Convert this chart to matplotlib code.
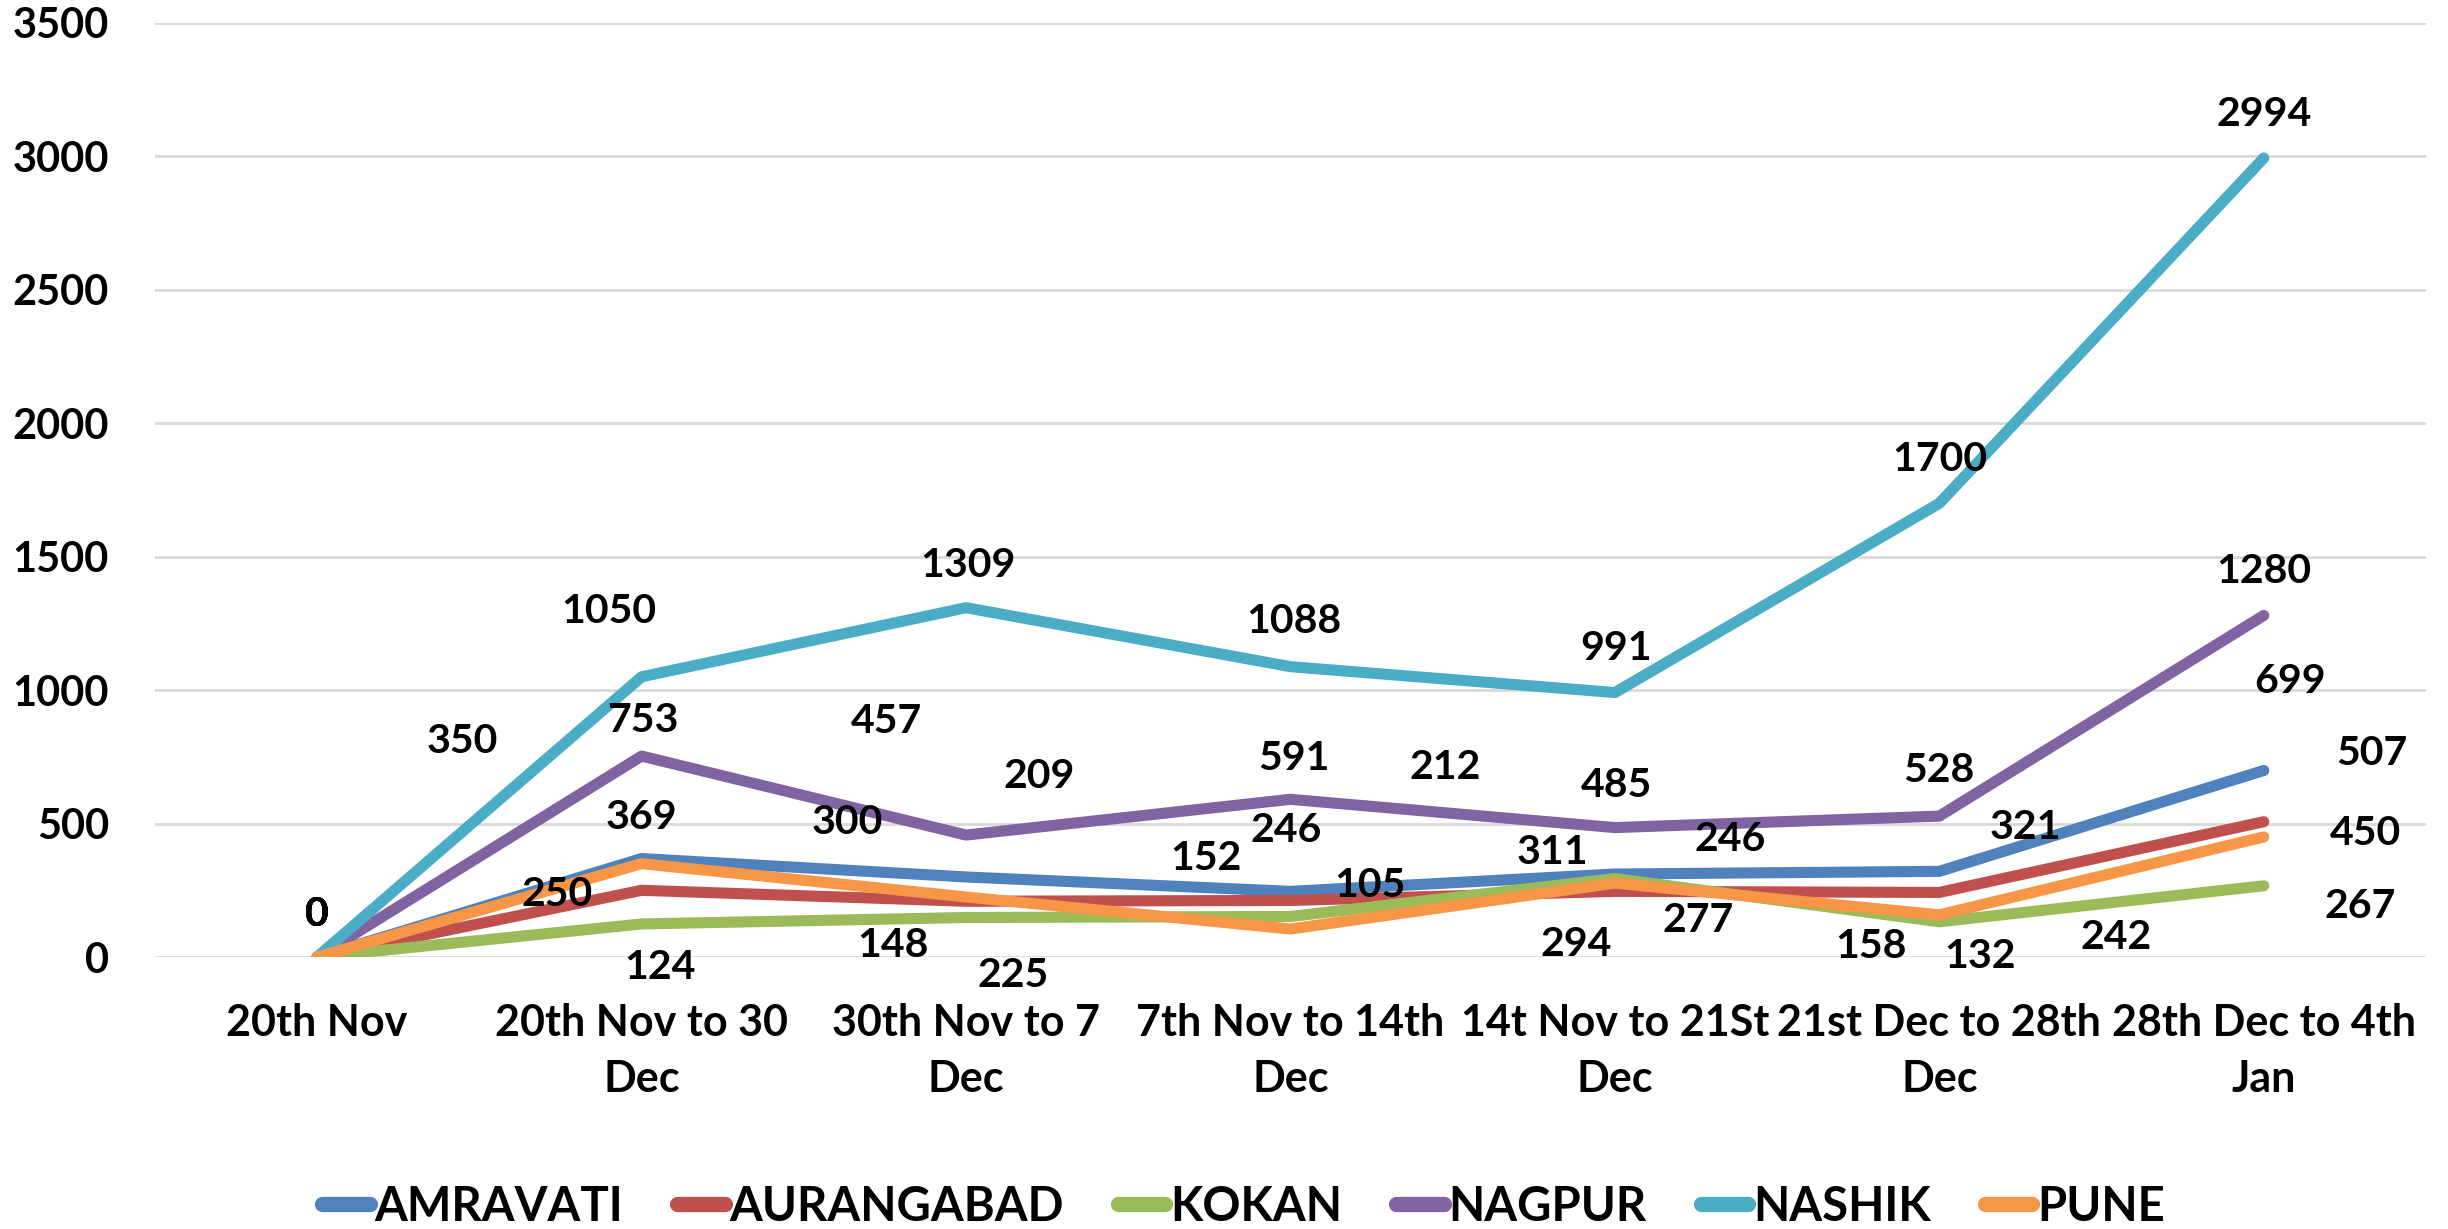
import numpy as np
import matplotlib.pyplot as plt

plt.rcParams['font.family'] = ['Lato', 'DejaVu Sans']
plt.rcParams['font.weight'] = 'bold'

# categories (x axis)
periods = ["20th Nov", "20th Nov to 30\nDec", "30th Nov to 7\nDec", "7th Nov to 14th\nDec",
           "14t Nov to 21St\nDec", "21st Dec to 28th\nDec", "28th Dec to 4th\nJan"]

# series values
amravati = [0, 369, 300, 246, 311, 321, 699]
aurangabad = [0, 250, 209, 212, 246, 242, 507]
kokan = [0, 124, 148, 152, 294, 132, 267]
nagpur = [0, 753, 457, 591, 485, 528, 1280]
nashik = [0, 1050, 1309, 1088, 991, 1700, 2994]
pune = [0, 350, 225, 105, 277, 158, 450]

names = ["AMRAVATI", "AURANGABAD", "KOKAN", "NAGPUR", "NASHIK", "PUNE"]
colors = ["#4F81BD", "#C0504D", "#9BBB59", "#8064A2", "#4BACC6", "#F79646"]
series = [amravati, aurangabad, kokan, nagpur, nashik, pune]

# data label offsets (reference pixels at 1568 wide, dy up)
label_offsets = [
    [(0, 27), (0, 26), (-76, 35), (-3, 39), (-40, 14), (55, 28), (17, 57)],
    [(0, 27), (-54, -3), (47, 80), (99, 85), (74, 33), (113, -29), (69, 44)],
    [(0, 27), (12, -28), (-47, -18), (-54, 37), (-25, -42), (26, -22), (62, -13)],
    [(0, 27), (1, 23), (-51, 73), (2, 26), (1, 27), (0, 29), (0, 28)],
    [(0, 27), (-21, 42), (1, 27), (2, 29), (1, 28), (0, 28), (0, 28)],
    [(0, 27), (-115, 78), (30, -50), (51, 28), (53, -24), (-44, -20), (65, 2)],
]
px_to_pt = (2448 / 1568) * 72 / 100

fig = plt.figure(figsize=(24.48, 12.29), dpi=100)
ax = fig.add_axes([0.0633, 0.2213, 0.9277, 0.76])

x = np.arange(len(periods))
for name, vals, col in zip(names, series, colors):
    ax.plot(x, vals, color=col, linewidth=8, solid_capstyle='round',
            solid_joinstyle='round', label=name)

for vals, offs in zip(series, label_offsets):
    for xi, v, (dx, dy) in zip(x, vals, offs):
        ax.annotate(str(v), (xi, v), xytext=(dx * px_to_pt, dy * px_to_pt),
                    textcoords='offset points', ha='center', va='center',
                    fontsize=29.5, fontweight='bold', color='black')

ax.set_xlim(-0.5, len(periods) - 0.5)
ax.set_ylim(0, 3500)
ax.set_yticks(np.arange(0, 3501, 500))
ax.set_xticks(x)
ax.set_xticklabels(periods, fontsize=31, fontweight='bold', linespacing=1.5)
ax.tick_params(axis='y', labelsize=30, length=0, pad=33)
ax.tick_params(axis='x', length=0, pad=33)
ax.grid(axis='y', color='#D9D9D9', linewidth=2)
ax.set_axisbelow(True)
for s in ax.spines.values():
    s.set_visible(False)

leg = fig.legend(loc='center', bbox_to_anchor=(0.508, 0.018), ncol=6, frameon=False,
                 handlelength=1.0, handletextpad=0.1, columnspacing=1.15,
                 prop={'weight': 'bold', 'size': 34})
for line in leg.get_lines():
    line.set_linewidth(11)

fig.savefig("out.png", dpi=100)
